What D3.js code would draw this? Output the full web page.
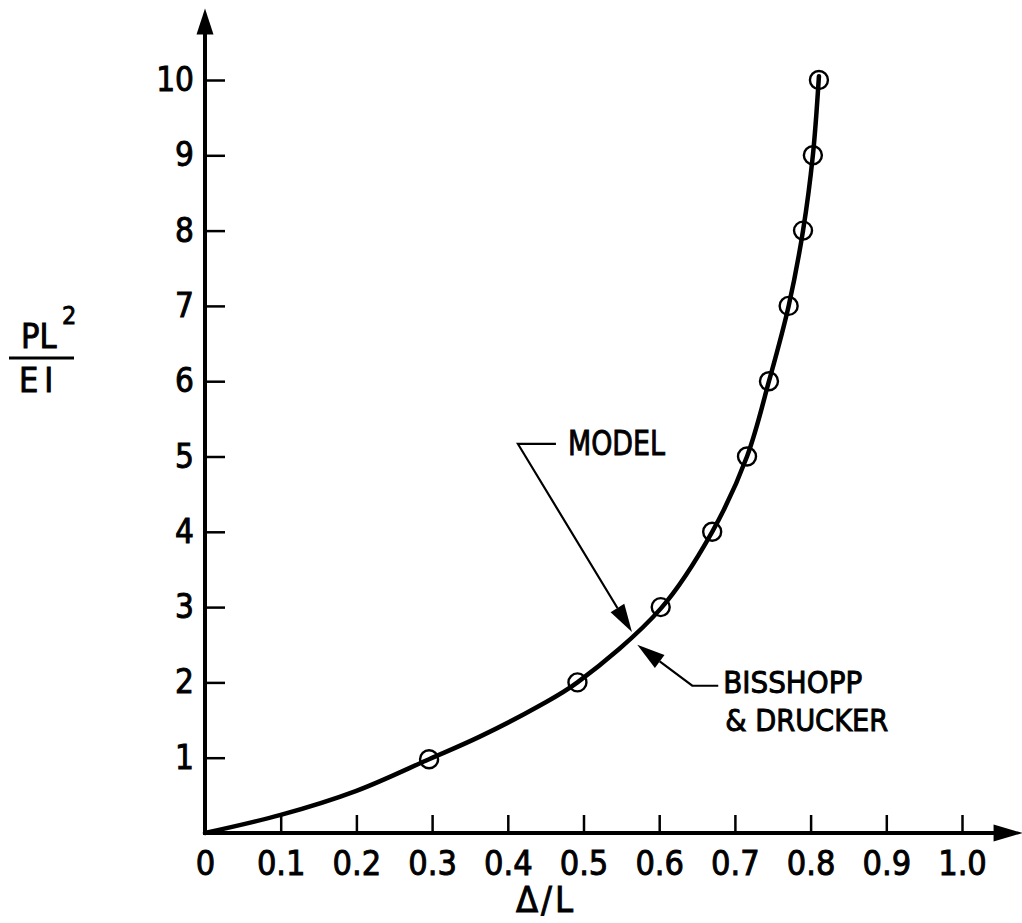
<!DOCTYPE html>
<html>
<head>
<meta charset="utf-8">
<script src="https://cdn.jsdelivr.net/npm/d3@7"></script>
<style>
  body { margin: 0; background: #fff; }
  svg text { font-family: "DejaVu Sans Condensed", "Liberation Sans Narrow", sans-serif; fill: #000; }
</style>
</head>
<body>
<script>
// values
var xTicks = [0, 0.1, 0.2, 0.3, 0.4, 0.5, 0.6, 0.7, 0.8, 0.9, 1.0];
var xTickLabels = ["0", "0.1", "0.2", "0.3", "0.4", "0.5", "0.6", "0.7", "0.8", "0.9", "1.0"];
var yTicks = [1, 2, 3, 4, 5, 6, 7, 8, 9, 10];
var yTickLabels = ["1", "2", "3", "4", "5", "6", "7", "8", "9", "10"];

// Bisshopp & Drucker (circles)
var pointX = [0.296, 0.492, 0.602, 0.670, 0.716, 0.745, 0.771, 0.790, 0.803, 0.811];
var pointY = [0.98, 2, 3, 4, 5, 6, 7, 8, 9, 10];

// model (solid curve)
var curveX = [0, 0.1, 0.2, 0.296, 0.363, 0.44, 0.492, 0.602, 0.670, 0.716, 0.745, 0.771, 0.790, 0.803, 0.811];
var curveY = [0, 0.24, 0.56, 0.98, 1.28, 1.68, 2, 2.98, 4, 5, 6, 7, 8, 9, 10.05];

var width = 1022, height = 923;

var svg = d3.select("body").append("svg")
  .attr("width", width)
  .attr("height", height);

var x = d3.scaleLinear().domain([0, 1]).range([205, 962]);
var y = d3.scaleLinear().domain([0, 10]).range([833, 80]);

// x axis, ticks pointing up
var xAxis = d3.axisBottom(x)
  .tickValues(xTicks)
  .tickFormat(function(d, i) { return xTickLabels[i]; })
  .tickSize(-18)
  .tickPadding(18);

var gx = svg.append("g")
  .attr("transform", "translate(0," + y(0) + ")")
  .call(xAxis);
gx.select(".domain").remove();
gx.selectAll(".tick line").attr("stroke", "#000").attr("stroke-width", 2.5);
gx.selectAll(".tick text").attr("font-size", 34).attr("stroke", "#000").attr("stroke-width", 0.9);

// y axis, ticks pointing right
var yAxis = d3.axisLeft(y)
  .tickValues(yTicks)
  .tickFormat(function(d, i) { return yTickLabels[i]; })
  .tickSize(-20)
  .tickPadding(11);

var gy = svg.append("g")
  .attr("transform", "translate(" + x(0) + ",0)")
  .call(yAxis);
gy.select(".domain").remove();
gy.selectAll(".tick line").attr("stroke", "#000").attr("stroke-width", 2.5);
gy.selectAll(".tick text").attr("font-size", 33).attr("stroke", "#000").attr("stroke-width", 0.9);

// axis lines with arrow heads
var xEnd = x(1.08), yEnd = y(10.95);
svg.append("line")
  .attr("x1", x(0)).attr("y1", y(0))
  .attr("x2", xEnd - 20).attr("y2", y(0))
  .attr("stroke", "#000").attr("stroke-width", 4);
svg.append("path")
  .attr("d", "M" + xEnd + "," + y(0) + "L" + (xEnd - 29) + "," + (y(0) - 8.5) + "L" + (xEnd - 29) + "," + (y(0) + 8.5) + "Z")
  .attr("fill", "#000");
svg.append("line")
  .attr("x1", x(0)).attr("y1", y(0) + 2)
  .attr("x2", x(0)).attr("y2", yEnd + 20)
  .attr("stroke", "#000").attr("stroke-width", 4);
svg.append("path")
  .attr("d", "M" + x(0) + "," + yEnd + "L" + (x(0) - 8.5) + "," + (yEnd + 26) + "L" + (x(0) + 8.5) + "," + (yEnd + 26) + "Z")
  .attr("fill", "#000");

// model curve
var curveData = curveX.map(function(d, i) { return [d, curveY[i]]; });
var line = d3.line()
  .x(function(d) { return x(d[0]); })
  .y(function(d) { return y(d[1]); })
  .curve(d3.curveCatmullRom.alpha(0.5));

svg.append("path")
  .datum(curveData)
  .attr("d", line)
  .attr("fill", "none")
  .attr("stroke", "#000")
  .attr("stroke-width", 4.5)
  .attr("stroke-linecap", "round");

// Bisshopp & Drucker points
var pointData = pointX.map(function(d, i) { return [d, pointY[i]]; });
svg.selectAll(".pt")
  .data(pointData)
  .enter().append("circle")
  .attr("class", "pt")
  .attr("cx", function(d) { return x(d[0]); })
  .attr("cy", function(d) { return y(d[1]); })
  .attr("r", 9)
  .attr("fill", "none")
  .attr("stroke", "#000")
  .attr("stroke-width", 2.4);

// axis titles
svg.append("text")
  .attr("x", 546).attr("y", 912)
  .attr("text-anchor", "middle")
  .attr("font-size", 36)
  .attr("letter-spacing", 3)
  .attr("stroke", "#000").attr("stroke-width", 0.9)
  .text("Δ/L");

var ylab = svg.append("g");
ylab.append("text")
  .attr("x", 21).attr("y", 348)
  .attr("font-size", 34)
  .attr("stroke", "#000").attr("stroke-width", 0.9)
  .text("PL");
ylab.append("text")
  .attr("x", 62).attr("y", 324)
  .attr("font-size", 25)
  .attr("stroke", "#000").attr("stroke-width", 0.8)
  .text("2");
ylab.append("line")
  .attr("x1", 9).attr("x2", 74)
  .attr("y1", 358).attr("y2", 358)
  .attr("stroke", "#000").attr("stroke-width", 3);
ylab.append("text")
  .attr("x", 19).attr("y", 392)
  .attr("font-size", 34)
  .attr("stroke", "#000").attr("stroke-width", 0.9)
  .attr("letter-spacing", 6)
  .text("EI");

// annotations: tip in data units, leader offsets in pixels from the tip
function annotate(tx, ty, elbow, hEnd, lines) {
  var px = x(tx), py = y(ty);
  var ex = px + elbow[0], ey = py + elbow[1];
  var ang = Math.atan2(ey - py, ex - px);
  var len = 28, hw = 8;
  var bx = px + Math.cos(ang) * len, by = py + Math.sin(ang) * len;
  svg.append("path")
    .attr("d", "M" + (px + hEnd[0]) + "," + (py + hEnd[1]) + "L" + ex + "," + ey + "L" + bx + "," + by)
    .attr("fill", "none")
    .attr("stroke", "#000")
    .attr("stroke-width", 2.2);
  svg.append("path")
    .attr("d", "M" + px + "," + py +
      "L" + (bx - Math.sin(ang) * hw) + "," + (by + Math.cos(ang) * hw) +
      "L" + (bx + Math.sin(ang) * hw) + "," + (by - Math.cos(ang) * hw) + "Z")
    .attr("fill", "#000");
  lines.forEach(function(l) {
    svg.append("text")
      .attr("x", px + l.dx).attr("y", py + l.dy)
      .attr("font-size", l.size)
      .attr("textLength", l.w)
      .attr("lengthAdjust", "spacingAndGlyphs")
      .attr("stroke", "#000").attr("stroke-width", 0.9)
      .text(l.text);
  });
}

annotate(0.564, 2.67, [-114, -188], [-76, -188], [
  { text: "MODEL", dx: -64, dy: -177, size: 34, w: 97 }
]);
annotate(0.571, 2.50, [55, 41], [81, 41], [
  { text: "BISSHOPP", dx: 86, dy: 48, size: 31, w: 139 },
  { text: "& DRUCKER", dx: 88, dy: 86, size: 31, w: 163 }
]);
</script>
</body>
</html>
